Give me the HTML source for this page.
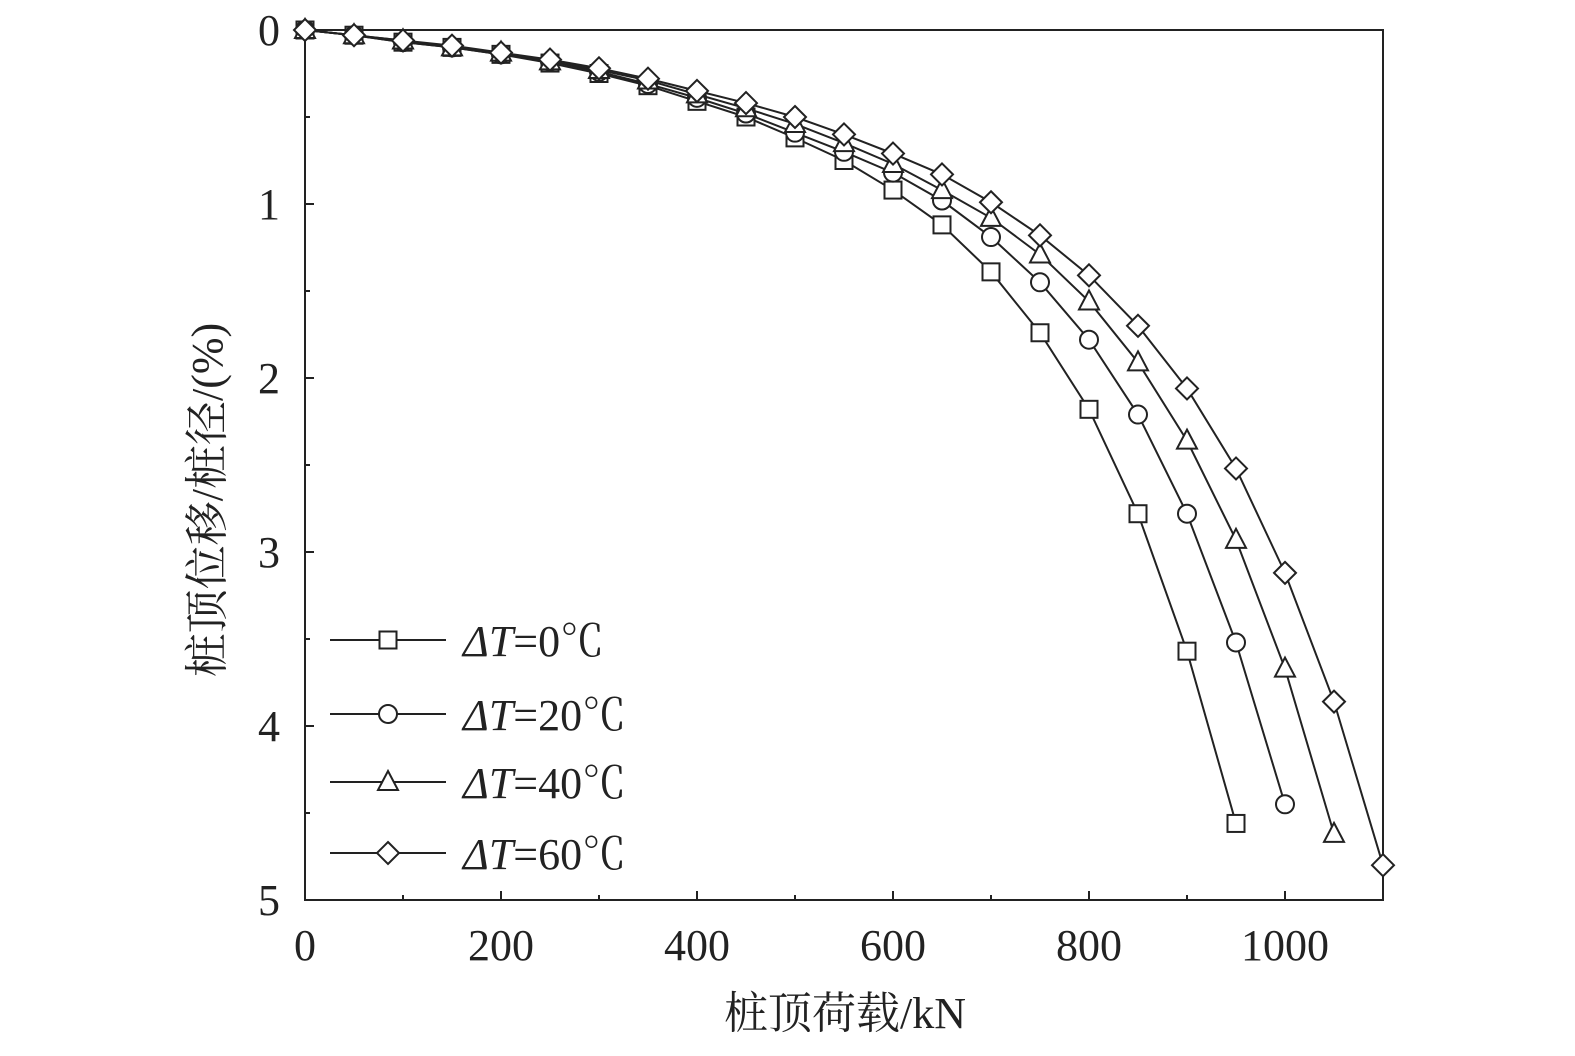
<!DOCTYPE html>
<html><head><meta charset="utf-8"><style>
body{margin:0;background:#fff}
svg text{font-family:"Liberation Serif","Noto Serif CJK SC",serif;fill:#222}
</style></head><body>
<svg id="chart" width="1575" height="1051" xmlns="http://www.w3.org/2000/svg">
<rect x="305" y="30" width="1078" height="870" fill="none" stroke="#222" stroke-width="2"/>
<g id="ticks"></g>
<g id="series"></g>
<g id="legend"></g>
<text transform="translate(222,500) rotate(-90)" text-anchor="middle" font-size="44">桩顶位移/桩径/(%)</text>
<text x="845" y="1028" text-anchor="middle" font-size="44">桩顶荷载/kN</text>
</svg>
<script>
const xTicks=[0,200,400,600,800,1000];
const yTicks=[0,1,2,3,4,5];
const loads=[0,50,100,150,200,250,300,350,400,450,500,550,600,650,700,750,800,850,900,950,1000,1050,1100];
const s0=[0,0.03,0.07,0.1,0.14,0.19,0.25,0.32,0.41,0.5,0.62,0.75,0.92,1.12,1.39,1.74,2.18,2.78,3.57,4.56];
const s20=[0,0.03,0.07,0.1,0.14,0.18,0.24,0.31,0.39,0.48,0.59,0.7,0.82,0.98,1.19,1.45,1.78,2.21,2.78,3.52,4.45];
const s40=[0,0.03,0.06,0.1,0.13,0.18,0.23,0.29,0.37,0.45,0.54,0.65,0.77,0.92,1.08,1.29,1.56,1.91,2.36,2.93,3.67,4.62];
const s60=[0,0.03,0.06,0.09,0.13,0.17,0.22,0.28,0.35,0.42,0.5,0.6,0.71,0.83,0.99,1.18,1.41,1.7,2.06,2.52,3.12,3.86,4.8];
const labels=["ΔT=0℃","ΔT=20℃","ΔT=40℃","ΔT=60℃"];
const NS="http://www.w3.org/2000/svg";
const X=v=>305+v*1078/1100, Y=v=>30+v*174;
function mk(t,a,p){const e=document.createElementNS(NS,t);for(const k in a)e.setAttribute(k,a[k]);p.appendChild(e);return e;}
const tk=document.getElementById('ticks');
for(let v=0;v<=1100;v+=100){const l=mk('line',{x1:X(v),x2:X(v),y1:900,y2:900-(v%200==0?9:5),stroke:'#222','stroke-width':2},tk);

}
xTicks.forEach(v=>{const t=mk('text',{x:X(v),y:960,'text-anchor':'middle','font-size':44},tk);t.textContent=v;

});
for(let v=0;v<=5;v+=0.5){const l=mk('line',{x1:305,x2:305+(v%1==0?9:5),y1:Y(v),y2:Y(v),stroke:'#222','stroke-width':2},tk);

}
yTicks.forEach(v=>{const t=mk('text',{x:280,y:Y(v)+15,'text-anchor':'end','font-size':44},tk);t.textContent=v;

});
function marker(type,x,y,p){let e;
if(type==0)e=mk('rect',{x:x-8.5,y:y-8.5,width:17,height:17},p);
else if(type==1)e=mk('circle',{cx:x,cy:y,r:9},p);
else if(type==2)e=mk('polygon',{points:`${x},${y-11} ${x+10},${y+8} ${x-10},${y+8}`},p);
else e=mk('polygon',{points:`${x},${y-11} ${x+11},${y} ${x},${y+11} ${x-11},${y}`},p);
e.setAttribute('fill','#fff');e.setAttribute('stroke','#222');e.setAttribute('stroke-width','2');

}
const sg=document.getElementById('series');
[s0,s20,s40,s60].forEach((s,i)=>{const g=mk('g',{},sg);


const pl=mk('polyline',{points:s.map((v,j)=>X(loads[j])+','+Y(v)).join(' '),fill:'none',stroke:'#222','stroke-width':2},g);


s.forEach((v,j)=>marker(i,X(loads[j]),Y(v),g));});
const lg=document.getElementById('legend');
[640,714,782,853].forEach((y,i)=>{const g=mk('g',{},lg);


mk('line',{x1:330,x2:446,y1:y,y2:y,stroke:'#222','stroke-width':2},g);
marker(i,388,y,g);
const t=mk('text',{x:463,y:y+16,'font-size':44},g);
const parts=labels[i].split('=');
const a=mk('tspan',{'font-style':'italic'},t);a.textContent=parts[0];
const b=mk('tspan',{},t);b.textContent='='+parts[1];});
</script>
</body></html>
